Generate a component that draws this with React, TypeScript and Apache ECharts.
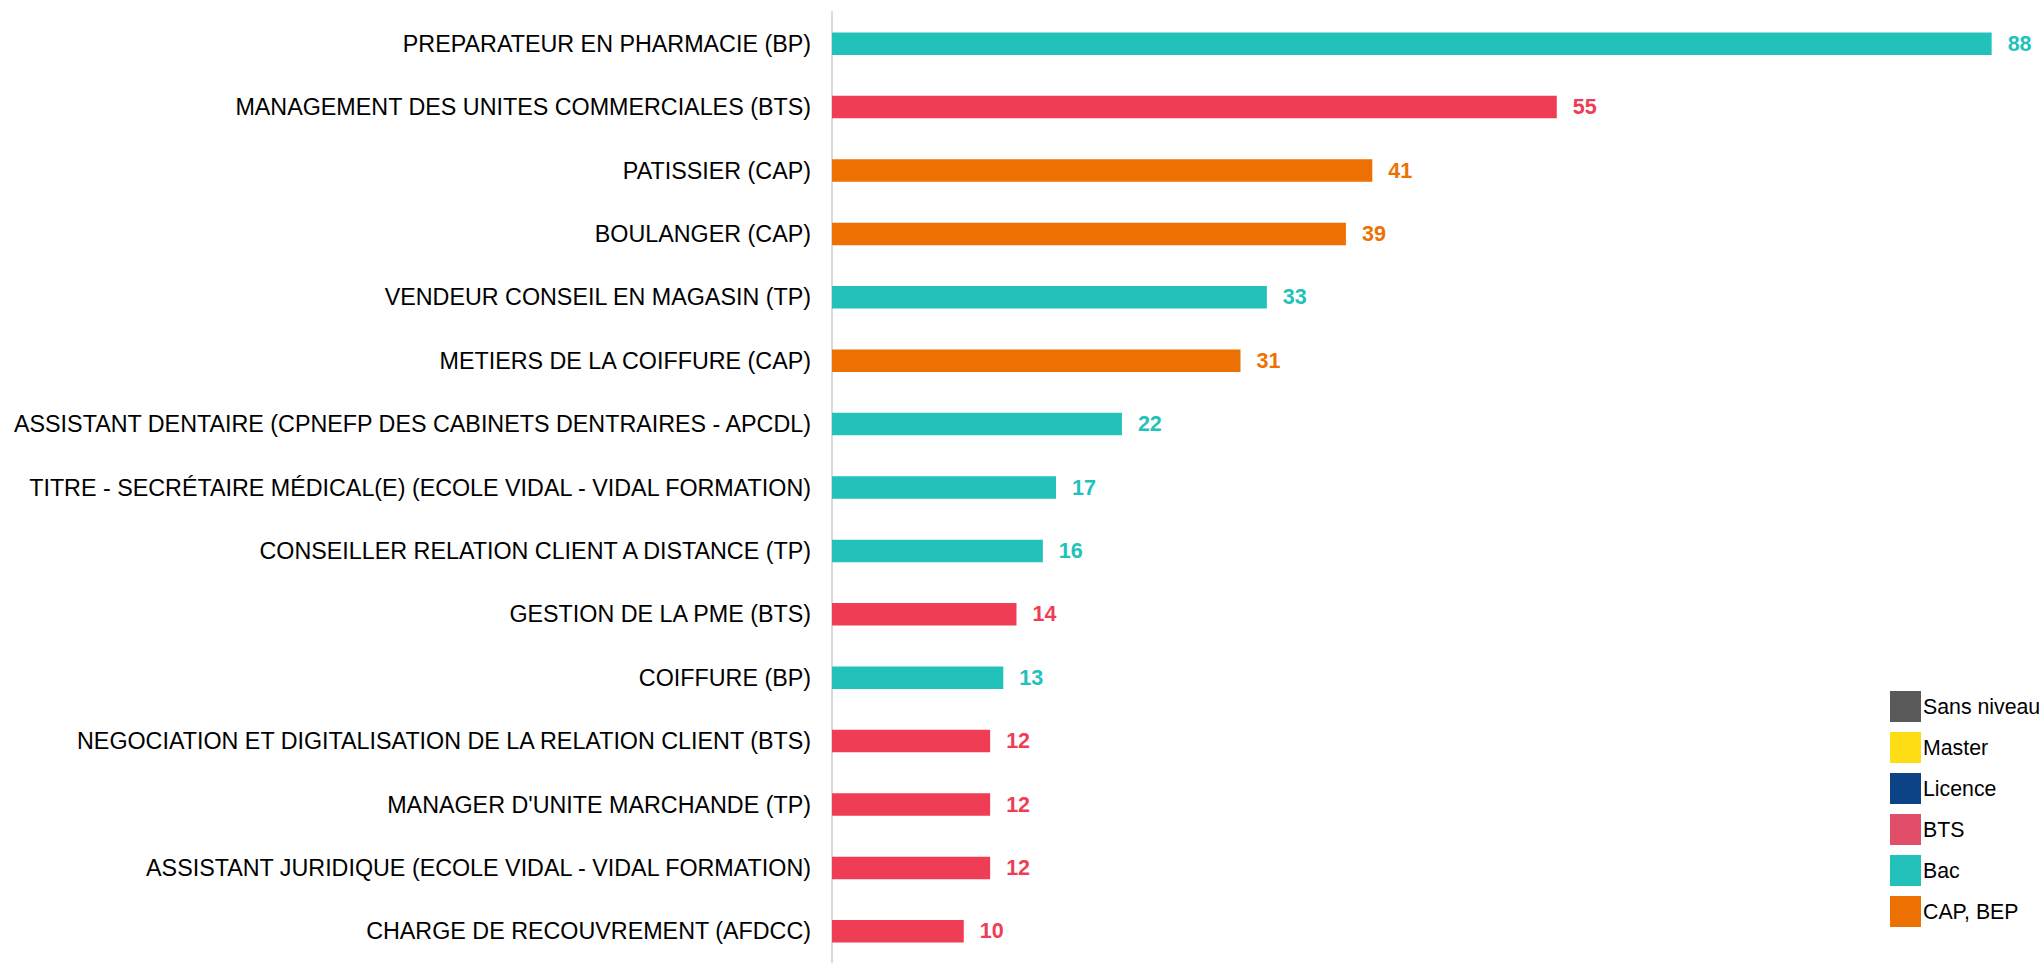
import React, { useEffect, useRef } from "react";
import * as echarts from "echarts";

const categories = [
  "PREPARATEUR EN PHARMACIE (BP)",
  "MANAGEMENT DES UNITES COMMERCIALES (BTS)",
  "PATISSIER (CAP)",
  "BOULANGER (CAP)",
  "VENDEUR CONSEIL EN MAGASIN (TP)",
  "METIERS DE LA COIFFURE (CAP)",
  "ASSISTANT DENTAIRE (CPNEFP DES CABINETS DENTRAIRES - APCDL)",
  "TITRE - SECRÉTAIRE MÉDICAL(E) (ECOLE VIDAL - VIDAL FORMATION)",
  "CONSEILLER RELATION CLIENT A DISTANCE (TP)",
  "GESTION DE LA PME (BTS)",
  "COIFFURE (BP)",
  "NEGOCIATION ET DIGITALISATION DE LA RELATION CLIENT (BTS)",
  "MANAGER D'UNITE MARCHANDE (TP)",
  "ASSISTANT JURIDIQUE (ECOLE VIDAL - VIDAL FORMATION)",
  "CHARGE DE RECOUVREMENT (AFDCC)",
];

const values = [88, 55, 41, 39, 33, 31, 22, 17, 16, 14, 13, 12, 12, 12, 10];

const levels = [
  "Bac", "BTS", "CAP, BEP", "CAP, BEP", "Bac", "CAP, BEP", "Bac", "Bac",
  "Bac", "BTS", "Bac", "BTS", "BTS", "BTS", "BTS",
];

const levelNames = ["Sans niveau", "Master", "Licence", "BTS", "Bac", "CAP, BEP"];
const barColors = ["#595959", "#FFDD15", "#0B4386", "#EE3D54", "#22C1B9", "#ED7102"];
const legendColors = ["#595959", "#FFDD15", "#0B4386", "#E04E6A", "#22C1B9", "#ED7102"];

export default function App() {
  const ref = useRef<HTMLDivElement>(null);
  useEffect(() => {
    const chart = echarts.init(ref.current!, undefined, { renderer: "svg" });
    const font = "Liberation Sans, Arial, sans-serif";
    const series = levelNames.map((name, i) => ({
      name,
      type: "bar",
      barWidth: 22.5,
      barGap: "-100%",
      itemStyle: { color: barColors[i] },
      data: values.map((v, j) => (levels[j] === name ? v : "-")),
      label: {
        show: true,
        position: "right",
        distance: 16,
        color: barColors[i],
        fontWeight: "bold",
        fontSize: 21.5,
        fontFamily: font,
      },
    }));
    chart.setOption({
      animation: false,
      backgroundColor: "#ffffff",
      grid: { left: 832, top: 12, width: 1186, height: 958.5, containLabel: false },
      legend: {
        orient: "vertical",
        left: 1890,
        top: 691,
        padding: 0,
        itemWidth: 31,
        itemHeight: 31,
        itemGap: 10,
        icon: "rect",
        selectedMode: false,
        textStyle: { fontSize: 21.3, color: "#000000", fontFamily: font, padding: [0, 0, 0, -3] },
        data: levelNames.map((n, i) => ({ name: n, itemStyle: { color: legendColors[i] } })),
      },
      xAxis: {
        type: "value",
        min: 0,
        max: 90,
        show: false,
      },
      yAxis: {
        type: "category",
        inverse: true,
        data: categories,
        axisLine: { show: true, lineStyle: { color: "#d9d9d9", width: 2 } },
        axisTick: { show: false },
        axisLabel: { fontSize: 23.3, color: "#000000", fontFamily: font, margin: 21 },
      },
      series,
    });
    return () => chart.dispose();
  }, []);
  return (
    <div
      ref={ref}
      style={{ position: "absolute", left: 0, top: 0, width: 2042, height: 963 }}
    />
  );
}
